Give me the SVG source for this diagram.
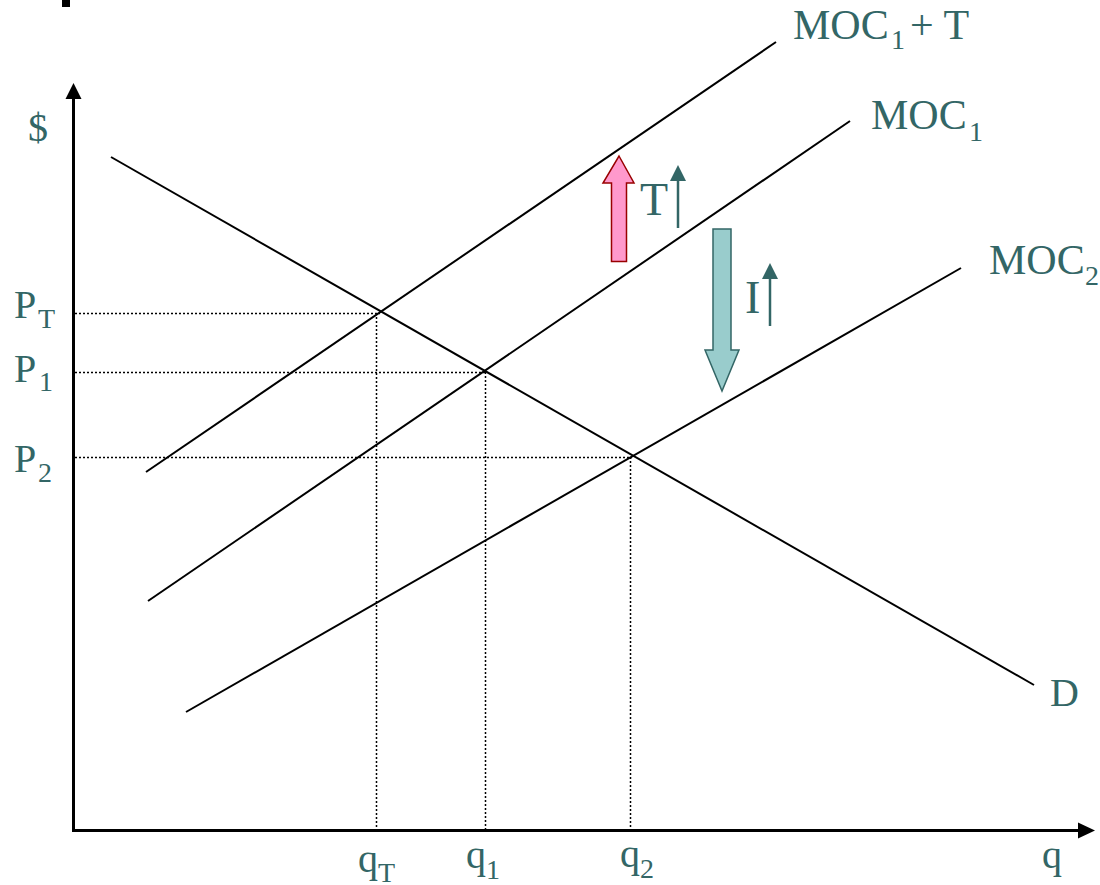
<svg xmlns="http://www.w3.org/2000/svg" width="1100" height="885" viewBox="0 0 1100 885">
<style>
.lbl{font-family:"Liberation Serif","Times New Roman",serif;fill:#336666;font-size:40px}
.moc{font-size:42px}
.sub{font-size:28px}
.big{font-size:46px}
.curve{stroke:#000;stroke-width:2;fill:none}
.dot{stroke:#000;stroke-width:1.5;stroke-dasharray:2 2;fill:none}
.axis{stroke:#000;stroke-width:3;fill:none}
</style>
<rect x="0" y="0" width="1100" height="885" fill="#fff"/>
<rect x="62" y="0" width="8" height="7" fill="#000"/>
<g id="axes">
<line class="axis" x1="73.5" y1="831" x2="73.5" y2="96"/>
<polygon points="73.5,83 65.5,99 81.5,99" fill="#000"/>
<line class="axis" x1="72" y1="830.5" x2="1082" y2="830.5"/>
<polygon points="1095,830.5 1078,822.5 1078,838.5" fill="#000"/>
</g>
<g id="connectors">
<line class="dot" x1="75" y1="313.5" x2="380" y2="313.5"/>
<line class="dot" x1="376.5" y1="313" x2="376.5" y2="829"/>
<line class="dot" x1="75" y1="372.5" x2="485" y2="372.5"/>
<line class="dot" x1="485.5" y1="372" x2="485.5" y2="829"/>
<line class="dot" x1="75" y1="457.5" x2="632" y2="457.5"/>
<line class="dot" x1="630.5" y1="457" x2="630.5" y2="829"/>
</g>
<g id="D"><line class="curve" x1="111" y1="157" x2="1034" y2="685"/><text class="lbl" x="1050" y="706">D</text></g>
<g id="MOC1T"><line class="curve" x1="146" y1="472" x2="776" y2="42"/>
<text class="lbl moc" x="793" y="39">MOC</text><text class="lbl sub" x="891" y="49">1</text><text class="lbl moc" x="910" y="39">+ T</text></g>
<g id="MOC1"><line class="curve" x1="148" y1="601" x2="850" y2="121"/>
<text class="lbl moc" x="871" y="129">MOC</text><text class="lbl sub" x="969" y="141">1</text></g>
<g id="MOC2"><line class="curve" x1="186" y1="712" x2="961" y2="268"/>
<text class="lbl moc" x="989" y="274">MOC</text><text class="lbl sub" x="1085" y="285">2</text></g>
<g id="ylabels">
<text class="lbl" x="28" y="141">$</text>
<text class="lbl" x="14" y="318">P</text><text class="lbl sub" x="38" y="328">T</text>
<text class="lbl" x="14" y="382">P</text><text class="lbl sub" x="39" y="391">1</text>
<text class="lbl" x="14" y="472">P</text><text class="lbl sub" x="38" y="482">2</text>
</g>
<g id="xlabels">
<text class="lbl" x="358" y="872">q</text><text class="lbl sub" x="378" y="882">T</text>
<text class="lbl" x="466" y="868">q</text><text class="lbl sub" x="486" y="879">1</text>
<text class="lbl" x="620" y="867">q</text><text class="lbl sub" x="640" y="878">2</text>
<text class="lbl" x="1042" y="868">q</text>
</g>
<g id="taxArrow">
<polygon points="619,156 634,183 626.5,183 626.5,261.5 611.5,261.5 611.5,183 603,183" fill="#FF99CC" stroke="#990000" stroke-width="1.5" stroke-linejoin="miter"/>
<text class="lbl big" x="640" y="215">T</text>
<line x1="678" y1="228" x2="678" y2="178" stroke="#336666" stroke-width="2.5"/>
<polygon points="678,165 670,181 686,181" fill="#336666"/>
</g>
<g id="interestArrow">
<polygon points="713,229 731,229 731,350 739,350 722,391 705,350 713,350" fill="#99CCCC" stroke="#336666" stroke-width="1.5"/>
<text class="lbl big" x="745" y="313">I</text>
<line x1="770" y1="326" x2="770" y2="276" stroke="#336666" stroke-width="2.5"/>
<polygon points="770,263 762,279 778,279" fill="#336666"/>
</g>
</svg>
